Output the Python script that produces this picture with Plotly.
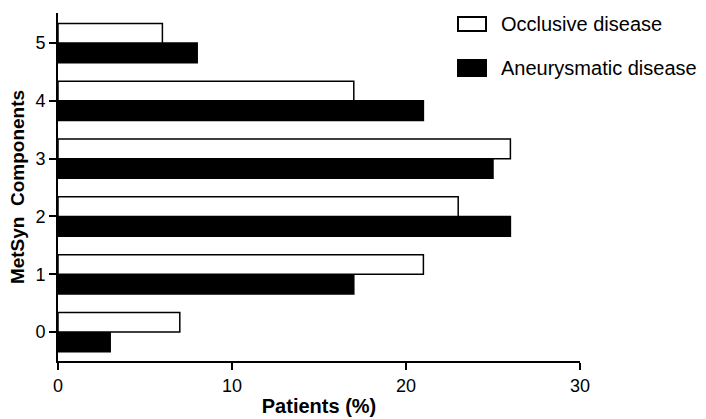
import plotly.graph_objects as go

components = [0, 1, 2, 3, 4, 5]
occlusive = [7, 21, 23, 26, 17, 6]
aneurysmatic = [3, 17, 26, 25, 21, 8]
x_ticks = [0, 10, 20, 30]
series_names = ["Occlusive disease", "Aneurysmatic disease"]

fig = go.Figure()
fig.add_trace(go.Bar(
    y=components, x=aneurysmatic, orientation="h", name=series_names[1],
    marker=dict(color="black", line=dict(color="black", width=1.5)),
))
fig.add_trace(go.Bar(
    y=components, x=occlusive, orientation="h", name=series_names[0],
    marker=dict(color="white", line=dict(color="black", width=1.5)),
))

font_family = "Liberation Sans, Arial, sans-serif"

# plot area in pixels: x 58..580, y 13..361
W0, W1, H0, H1 = 58, 580, 13, 361
def px(xp):
    return (xp - W0) / (W1 - W0)
def py(yp):
    return (H1 - yp) / (H1 - H0)

legend_items = [
    dict(name=series_names[0], fill="white", top=17, bottom=31),
    dict(name=series_names[1], fill="black", top=60, bottom=76),
]
shapes = []
annotations = []
for it in legend_items:
    shapes.append(dict(type="rect", xref="paper", yref="paper",
                       x0=px(458), x1=px(486), y0=py(it["bottom"]), y1=py(it["top"]),
                       fillcolor=it["fill"], line=dict(color="black", width=2)))
    annotations.append(dict(xref="paper", yref="paper", x=px(499),
                            y=py((it["top"] + it["bottom"]) / 2),
                            xanchor="left", yanchor="middle", showarrow=False,
                            text=it["name"], font=dict(size=20, family=font_family)))

fig.update_layout(
    width=706, height=419,
    margin=dict(l=W0, r=706 - W1, t=H0, b=419 - H1),
    barmode="group", bargap=0.32, bargroupgap=0,
    plot_bgcolor="white", paper_bgcolor="white",
    font=dict(family=font_family, color="black", size=18),
    showlegend=False,
    shapes=shapes, annotations=annotations,
    xaxis=dict(range=[0, 30], tickvals=x_ticks, showgrid=False, zeroline=False,
               showline=True, linecolor="black", linewidth=2, automargin=False,
               ticks="outside", ticklen=7, tickwidth=2, tickcolor="black",
               tickfont=dict(size=18),
               title=dict(text="<b>Patients (%)</b>", font=dict(size=20), standoff=4)),
    yaxis=dict(range=[-0.5, 5.52], tickvals=components, showgrid=False, zeroline=False,
               showline=True, linecolor="black", linewidth=2, automargin=False,
               ticks="outside", ticklen=7, tickwidth=2, tickcolor="black",
               tickfont=dict(size=18),
               title=dict(text="<b>MetSyn  Components</b>", font=dict(size=19), standoff=6)),
)

fig.write_html("out.html")
